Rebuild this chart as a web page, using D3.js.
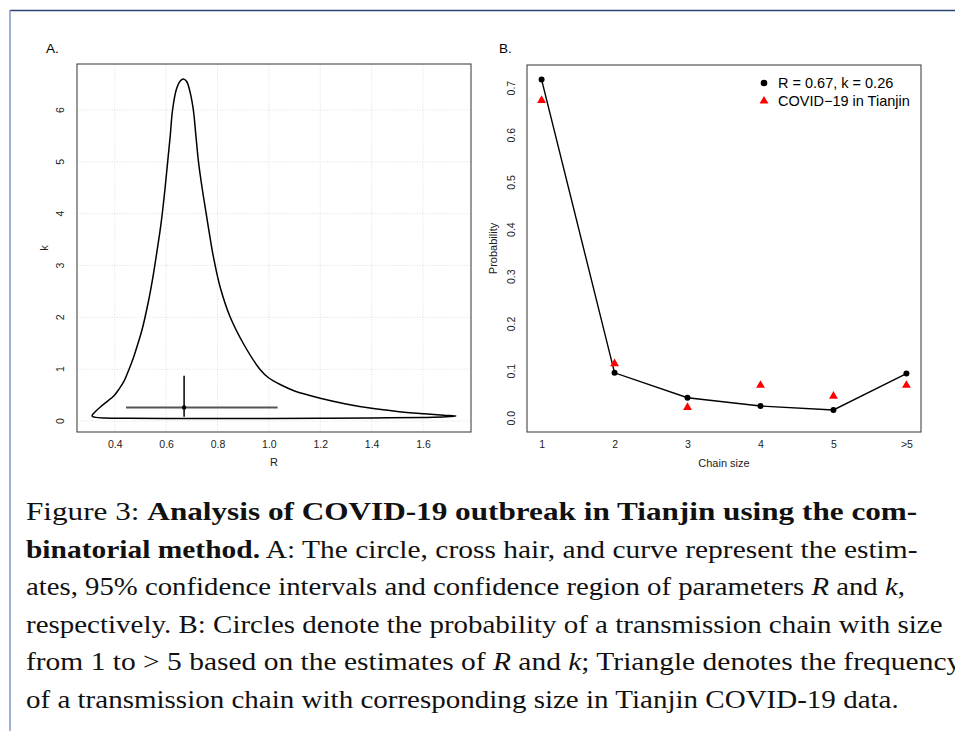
<!DOCTYPE html>
<html><head><meta charset="utf-8">
<script src="https://cdn.jsdelivr.net/npm/d3@7/dist/d3.min.js"></script>
<style>
html,body{margin:0;padding:0;background:#fff;overflow:hidden;}
svg{display:block;}
</style></head>
<body>
<svg id="c" width="955" height="731"></svg>
<script>
// ---------- DATA ----------
const rTicks = [0.4, 0.6, 0.8, 1.0, 1.2, 1.4, 1.6];
const kTicks = [0, 1, 2, 3, 4, 5, 6];
// confidence region outline (R, k), traced around the contour
const regionR = [0.312,0.322,0.345,0.370,0.396,0.416,0.435,0.455,0.474,0.490,0.506,0.532,0.551,0.567,0.577,0.585,0.596,0.606,0.616,0.625,0.640,0.655,0.667,0.680,0.693,0.706,0.716,0.726,0.740,0.756,0.769,0.784,0.810,0.849,0.900,0.965,1.000,1.050,1.100,1.200,1.300,1.400,1.500,1.600,1.680,1.728,1.690,1.600,1.400,1.200,1.000,0.800,0.600,0.450,0.360,0.325,0.313];
const regionK = [0.110,0.170,0.276,0.375,0.482,0.610,0.758,0.990,1.240,1.490,1.756,2.330,2.850,3.360,3.690,4.000,4.500,5.000,5.500,6.000,6.400,6.560,6.600,6.550,6.350,6.000,5.500,5.000,4.500,4.000,3.600,3.170,2.590,2.010,1.500,1.000,0.830,0.690,0.580,0.440,0.330,0.245,0.185,0.142,0.113,0.097,0.080,0.068,0.058,0.053,0.050,0.050,0.050,0.052,0.058,0.070,0.088];
const estR = 0.67, estK = 0.26;
const ciR = [0.444, 1.034];
const ciK = [0.083, 0.874];

const chainSizes = ["1", "2", "3", "4", "5", ">5"];
const modelProb = [0.718, 0.0965, 0.0437, 0.026, 0.0177, 0.095];
const observedFreq = [0.674, 0.116, 0.023, 0.070, 0.047, 0.070];
const probTicks = [0.0, 0.1, 0.2, 0.3, 0.4, 0.5, 0.6, 0.7];
const legendLabels = ["R = 0.67, k = 0.26", "COVID\u221219 in Tianjin"];

// ---------- SETUP ----------
const svg = d3.select("#c");
const SANS = "'Liberation Sans', Arial, Helvetica, sans-serif";
const SERIF = "'Liberation Serif', 'Times New Roman', serif";

// frame
svg.append("line").attr("x1",10).attr("x2",955).attr("y1",10.5).attr("y2",10.5).attr("stroke","#2b4675").attr("stroke-width",1.3);
svg.append("line").attr("x1",10).attr("x2",10).attr("y1",10).attr("y2",731).attr("stroke","#6f89b6").attr("stroke-width",1.3);

// ---------- PANEL A ----------
const A = {l:77, r:471, t:64, b:432};
const xA = d3.scaleLinear().domain([0.253, 1.787]).range([A.l, A.r]);
const yA = d3.scaleLinear().domain([-0.212, 6.887]).range([A.b, A.t]);
const gA = svg.append("g");

// grid
gA.append("g").selectAll("line").data(rTicks).join("line")
  .attr("x1", d=>xA(d)).attr("x2", d=>xA(d)).attr("y1", A.t).attr("y2", A.b)
  .attr("stroke","#d9d9d9").attr("stroke-width",0.8).attr("stroke-dasharray","1,1.5");
gA.append("g").selectAll("line").data(kTicks).join("line")
  .attr("y1", d=>yA(d)).attr("y2", d=>yA(d)).attr("x1", A.l).attr("x2", A.r)
  .attr("stroke","#d9d9d9").attr("stroke-width",0.8).attr("stroke-dasharray","1,1.5");

// axes (labels only, no tick marks)
const axAx = d3.axisBottom(xA).tickValues(rTicks).tickSize(0).tickPadding(9).tickFormat(d3.format(".1f"));
const gxA = gA.append("g").attr("transform",`translate(0,${A.b})`).call(axAx);
gxA.select(".domain").remove();
gxA.selectAll("text").attr("font-family",SANS).attr("font-size",10.5).attr("fill","#222");

kTicks.forEach(k=>{
  gA.append("text").attr("transform",`translate(${64},${yA(k)}) rotate(-90)`)
    .attr("text-anchor","middle").attr("font-family",SANS).attr("font-size",10.5).attr("fill","#222").text(String(k));
});

// region curve
const regionPts = regionR.map((r,i)=>[r, regionK[i]]);
const line = d3.line().x(d=>xA(d[0])).y(d=>yA(d[1])).curve(d3.curveCatmullRomClosed.alpha(0.5));
gA.append("path").attr("d", line(regionPts)).attr("fill","none").attr("stroke","#000").attr("stroke-width",1.5);

// cross hair
gA.append("line").attr("x1",xA(ciR[0])).attr("x2",xA(ciR[1])).attr("y1",yA(estK)).attr("y2",yA(estK))
  .attr("stroke","#555").attr("stroke-width",2);
gA.append("line").attr("x1",xA(estR)).attr("x2",xA(estR)).attr("y1",yA(ciK[0])).attr("y2",yA(ciK[1]))
  .attr("stroke","#111").attr("stroke-width",1.6);
gA.append("circle").attr("cx",xA(estR)).attr("cy",yA(estK)).attr("r",2.2).attr("fill","#000");

// box
gA.append("rect").attr("x",A.l).attr("y",A.t).attr("width",A.r-A.l).attr("height",A.b-A.t)
  .attr("fill","none").attr("stroke","#333").attr("stroke-width",1);

gA.append("text").attr("x",(A.l+A.r)/2).attr("y",466).attr("text-anchor","middle")
  .attr("font-family",SANS).attr("font-size",11).attr("fill","#222").text("R");
gA.append("text").attr("transform",`translate(48,${(A.t+A.b)/2}) rotate(-90)`).attr("text-anchor","middle")
  .attr("font-family",SANS).attr("font-size",11).attr("fill","#222").text("k");
gA.append("text").attr("x",46).attr("y",53).attr("font-family",SANS).attr("font-size",13.5).attr("fill","#000").text("A.");

// ---------- PANEL B ----------
const B = {l:527, r:921, t:65, b:432};
const xB = d3.scaleLinear().domain([0.8, 6.2]).range([B.l, B.r]);
const yB = d3.scaleLinear().domain([-0.029, 0.749]).range([B.b, B.t]);
const gB = svg.append("g");
const idx = chainSizes.map((c,i)=>i+1);

const axBx = d3.axisBottom(xB).tickValues(idx).tickSize(0).tickPadding(9).tickFormat((d,i)=>chainSizes[i]);
const gxB = gB.append("g").attr("transform",`translate(0,${B.b})`).call(axBx);
gxB.select(".domain").remove();
gxB.selectAll("text").attr("font-family",SANS).attr("font-size",10.5).attr("fill","#222");

probTicks.forEach(p=>{
  gB.append("text").attr("transform",`translate(${515},${yB(p)}) rotate(-90)`)
    .attr("text-anchor","middle").attr("font-family",SANS).attr("font-size",10.5).attr("fill","#222").text(p.toFixed(1));
});

const modelPts = modelProb.map((p,i)=>[i+1,p]);
gB.append("path").attr("d", d3.line().x(d=>xB(d[0])).y(d=>yB(d[1]))(modelPts))
  .attr("fill","none").attr("stroke","#000").attr("stroke-width",1.4);
gB.append("g").selectAll("circle").data(modelPts).join("circle")
  .attr("cx",d=>xB(d[0])).attr("cy",d=>yB(d[1])).attr("r",3).attr("fill","#000");

const tri = d3.symbol().type(d3.symbolTriangle).size(34);
gB.append("g").selectAll("path").data(observedFreq.map((p,i)=>[i+1,p])).join("path")
  .attr("d", tri).attr("transform",d=>`translate(${xB(d[0])},${yB(d[1])})`).attr("fill","#f00");

gB.append("rect").attr("x",B.l).attr("y",B.t).attr("width",B.r-B.l).attr("height",B.b-B.t)
  .attr("fill","none").attr("stroke","#333").attr("stroke-width",1);

gB.append("text").attr("x",(B.l+B.r)/2).attr("y",467).attr("text-anchor","middle")
  .attr("font-family",SANS).attr("font-size",11).attr("fill","#222").text("Chain size");
gB.append("text").attr("transform",`translate(497,${(B.t+B.b)/2}) rotate(-90)`).attr("text-anchor","middle")
  .attr("font-family",SANS).attr("font-size",11).attr("fill","#222").text("Probability");
gB.append("text").attr("x",499).attr("y",53).attr("font-family",SANS).attr("font-size",13.5).attr("fill","#000").text("B.");

// legend
const lg = gB.append("g");
lg.append("circle").attr("cx",764).attr("cy",83).attr("r",3.3).attr("fill","#000");
lg.append("path").attr("d",tri).attr("transform","translate(764,101)").attr("fill","#f00");
lg.append("text").attr("x",778).attr("y",88).attr("font-family",SANS).attr("font-size",14.5).attr("fill","#000").text(legendLabels[0]);
lg.append("text").attr("x",778).attr("y",106).attr("font-family",SANS).attr("font-size",14.5).attr("fill","#000").text(legendLabels[1]);

// ---------- CAPTION ----------
const capLines = [
  [["Figure 3: ",""],["Analysis of COVID-19 outbreak in Tianjin using the com-","b"]],
  [["binatorial method.","b"],[" A: The circle, cross hair, and curve represent the estim-",""]],
  [["ates, 95% confidence intervals and confidence region of parameters ",""],["R","i"],[" and ",""],["k","i"],[",",""]],
  [["respectively. B: Circles denote the probability of a transmission chain with size",""]],
  [["from 1 to > 5 based on the estimates of ",""],["R","i"],[" and ",""],["k","i"],["; Triangle denotes the frequency",""]],
  [["of a transmission chain with corresponding size in Tianjin COVID-19 data.",""]]
];
const capEnds = [918, 918, 905, 943, null, 899];
const capX = 26;
const ratios = [];
const capNodes = [];
capLines.forEach((segs, i)=>{
  const g = svg.append("g");
  const t = g.append("text").attr("x",capX).attr("y",520.5 + i*37.5)
    .attr("font-family",SERIF).attr("font-size",25).attr("fill","#111");
  segs.forEach(s=>{
    const ts = t.append("tspan").text(s[0]);
    if (s[1]==="b") ts.attr("font-weight","bold");
    if (s[1]==="i") ts.attr("font-style","italic");
  });
  const w = t.node().getComputedTextLength();
  capNodes.push([g,w]);
  if (capEnds[i]) ratios.push((capEnds[i]-capX)/w);
});
const avgRatio = d3.mean(ratios);
capNodes.forEach(([g,w],i)=>{
  const s = capEnds[i] ? (capEnds[i]-capX)/w : avgRatio;
  g.attr("transform",`translate(${capX},0) scale(${s},1) translate(${-capX},0)`);
});
</script>
</body></html>
